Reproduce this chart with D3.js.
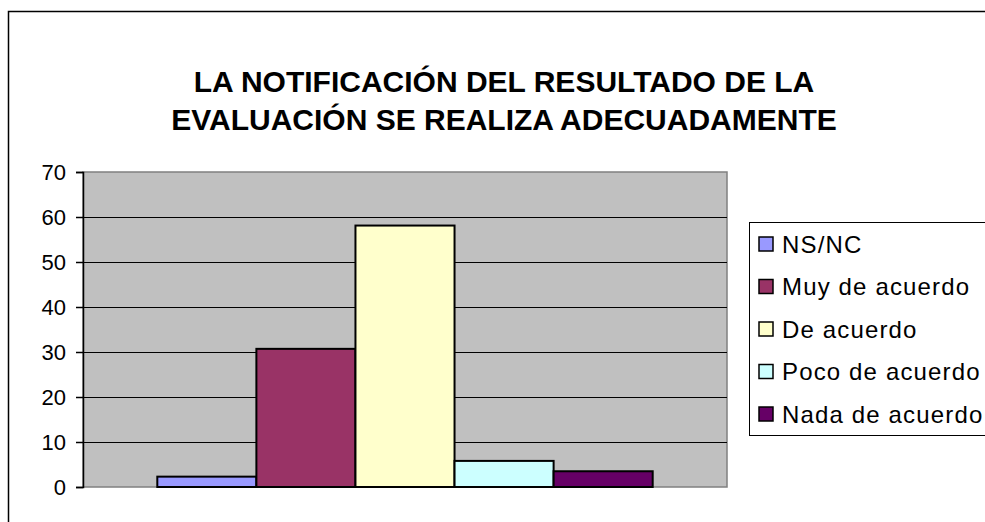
<!DOCTYPE html>
<html>
<head>
<meta charset="utf-8">
<script src="https://cdn.jsdelivr.net/npm/d3@7"></script>
<style>
  body { margin: 0; background: #fff; }
  svg { display: block; font-family: Arial, "Liberation Sans", sans-serif; }
</style>
</head>
<body>
<div class="viewbox"></div>
<script>
  // series = the five answer options, one category only
  const series = ["NS/NC", "Muy de acuerdo", "De acuerdo", "Poco de acuerdo", "Nada de acuerdo"]
  const values = [2.3, 30.7, 58.1, 5.8, 3.5]
  const colors = ["#9999FF", "#993366", "#FFFFCC", "#CCFFFF", "#660066"]
  const yTicks = [0, 10, 20, 30, 40, 50, 60, 70]
  const titleLines = ["LA NOTIFICACIÓN DEL RESULTADO DE LA", "EVALUACIÓN SE REALIZA ADECUADAMENTE"]

  const svg_width = 985
  const svg_height = 522
  const plot = { left: 83, right: 727, top: 172, bottom: 487 }

  let svg = d3.select(".viewbox")
    .append("svg")
    .attr("width", svg_width)
    .attr("height", svg_height)

  // outer chart border (only top and left show in the frame)
  svg.append("rect")
    .attr("x", 8.5).attr("y", 11.5)
    .attr("width", 1100).attr("height", 600)
    .attr("fill", "none")
    .attr("stroke", "#000")
    .attr("stroke-width", 1.5)

  // title
  svg.append("text")
    .attr("text-anchor", "middle")
    .style("font-weight", "bold")
    .style("font-size", "30px")
    .selectAll("tspan")
    .data(titleLines)
    .enter()
    .append("tspan")
    .attr("x", 504)
    .attr("y", (d, i) => 92 + i * 38)
    .text(d => d)

  let y = d3.scaleLinear().domain([0, 70]).range([plot.bottom, plot.top])

  // one category; excel gap width 150% -> outer padding 0.15
  let x0 = d3.scaleBand().domain(["cat"]).range([plot.left, plot.right]).paddingOuter(0.15).paddingInner(0)
  let x1 = d3.scaleBand().domain(series).range([x0("cat"), x0("cat") + x0.bandwidth()])

  // plot background
  svg.append("rect")
    .attr("x", plot.left).attr("y", plot.top)
    .attr("width", plot.right - plot.left).attr("height", plot.bottom - plot.top)
    .attr("fill", "#C0C0C0")
    .attr("stroke", "#808080")
    .attr("stroke-width", 1.5)

  // gridlines
  svg.append("g")
    .selectAll("line")
    .data(yTicks.filter(d => d > 0 && d < 70))
    .enter()
    .append("line")
    .attr("x1", plot.left).attr("x2", plot.right)
    .attr("y1", d => Math.round(y(d)) + 0.5).attr("y2", d => Math.round(y(d)) + 0.5)
    .attr("stroke", "#000")
    .attr("stroke-width", 1)

  // bars
  svg.append("g")
    .selectAll("rect")
    .data(values)
    .enter()
    .append("rect")
    .attr("x", (d, i) => x1(series[i]))
    .attr("y", d => y(d))
    .attr("width", x1.bandwidth())
    .attr("height", d => y(0) - y(d))
    .attr("fill", (d, i) => colors[i])
    .attr("stroke", "#000")
    .attr("stroke-width", 2)

  // y axis
  let yAxis = svg.append("g")
    .attr("transform", `translate(${plot.left},0)`)
    .call(d3.axisLeft(y).tickValues(yTicks).tickSize(7).tickPadding(10))
  yAxis.select(".domain").attr("stroke", "#000").attr("stroke-width", 1.5)
  yAxis.selectAll(".tick line").attr("stroke", "#000").attr("stroke-width", 1.5)
  yAxis.selectAll("text")
    .style("font-size", "22px")
    .style("font-family", "Arial, 'Liberation Sans', sans-serif")
    .attr("fill", "#000")

  // legend box
  let legend = svg.append("g")
  legend.append("rect")
    .attr("x", 749.5).attr("y", 222.5)
    .attr("width", 400).attr("height", 213)
    .attr("fill", "#fff")
    .attr("stroke", "#000")
    .attr("stroke-width", 1)

  let items = legend.selectAll("g.item")
    .data(series)
    .enter()
    .append("g")
    .attr("class", "item")
    .attr("transform", (d, i) => `translate(759, ${244 + i * 42.5})`)

  items.append("rect")
    .attr("x", 0).attr("y", -7)
    .attr("width", 14).attr("height", 14)
    .attr("fill", (d, i) => colors[i])
    .attr("stroke", "#000")
    .attr("stroke-width", 1.5)

  items.append("text")
    .attr("x", 23)
    .attr("dy", "0.36em")
    .style("font-size", "24px")
    .style("letter-spacing", "1.15px")
    .text(d => d)
</script>
</body>
</html>
